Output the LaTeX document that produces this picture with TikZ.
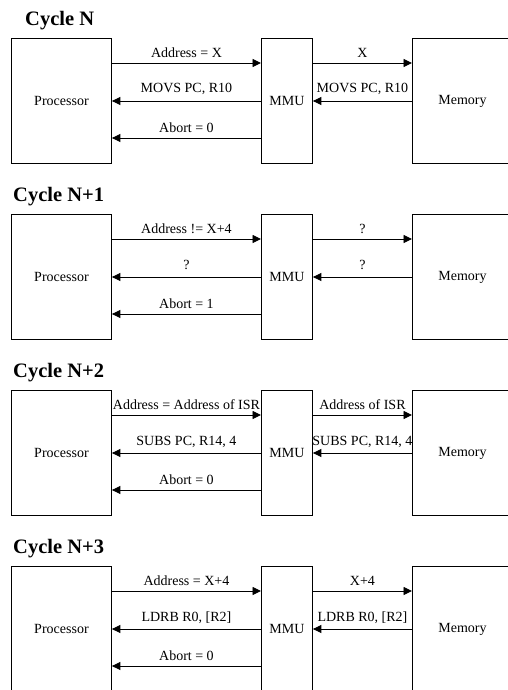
\documentclass[tikz,border=0pt]{standalone}
\usepackage{fontspec}
\setmainfont{Liberation Serif}
\usetikzlibrary{arrows.meta}
\tikzset{
  blk/.style={draw, line width=0.9pt, inner sep=0pt, anchor=north west,
              minimum height=125pt, font=\fontsize{14}{16}\selectfont},
  sig/.style={line width=0.9pt, -{Triangle[length=8.5pt,width=8pt]}},
  lbl/.style={anchor=base, font=\fontsize{14}{16}\selectfont, inner sep=0pt},
  ttl/.style={anchor=base west, font=\fontsize{20.5}{24}\selectfont\bfseries, inner sep=0pt},
}
% #1 id, #2 top y, #3 title x, #4 title, #5 addr, #6 right top, #7 mid left, #8 mid right, #9 abort
\newcommand\drawcycle[9]{%
  \node[ttl] (T#1) at (#3,#2-12.5) {#4};
  \node[blk, minimum width=100pt] (P#1) at (11,#2) {Processor};
  \node[blk, minimum width=51pt] (M#1) at (261,#2) {MMU};
  \node[blk, minimum width=100pt] (R#1) at (412,#2) {Memory};
  \draw[sig] ([yshift=-25pt]P#1.north east) -- node[lbl, yshift=5.5pt] {#5} ([yshift=-25pt]M#1.north west);
  \draw[sig] ([yshift=-25pt]M#1.north east) -- node[lbl, yshift=5.5pt] {#6} ([yshift=-25pt]R#1.north west);
  \draw[sig] ([yshift=-63pt]M#1.north west) -- node[lbl, yshift=8pt] {#7} ([yshift=-63pt]P#1.north east);
  \draw[sig] ([yshift=-63pt]R#1.north west) -- node[lbl, yshift=8pt] {#8} ([yshift=-63pt]M#1.north east);
  \draw[sig] ([yshift=-100pt]M#1.north west) -- node[lbl, yshift=5.5pt] {#9} ([yshift=-100pt]P#1.north east);
}
\begin{document}
\begin{tikzpicture}[x=1pt, y=-1pt]
  \useasboundingbox (0,0) rectangle (508,690);
  \drawcycle{a}{38}{25}{Cycle N}{Address = X}{X}{MOVS PC, R10}{MOVS PC, R10}{Abort = 0}
  \drawcycle{b}{214}{13}{Cycle N+1}{Address != X+4}{?}{?}{?}{Abort = 1}
  \drawcycle{c}{390}{13}{Cycle N+2}{Address = Address of ISR}{Address of ISR}{SUBS PC, R14, 4}{SUBS PC, R14, 4}{Abort = 0}
  \drawcycle{d}{566}{13}{Cycle N+3}{Address = X+4}{X+4}{LDRB R0, [R2]}{LDRB R0, [R2]}{Abort = 0}
\end{tikzpicture}
\end{document}
